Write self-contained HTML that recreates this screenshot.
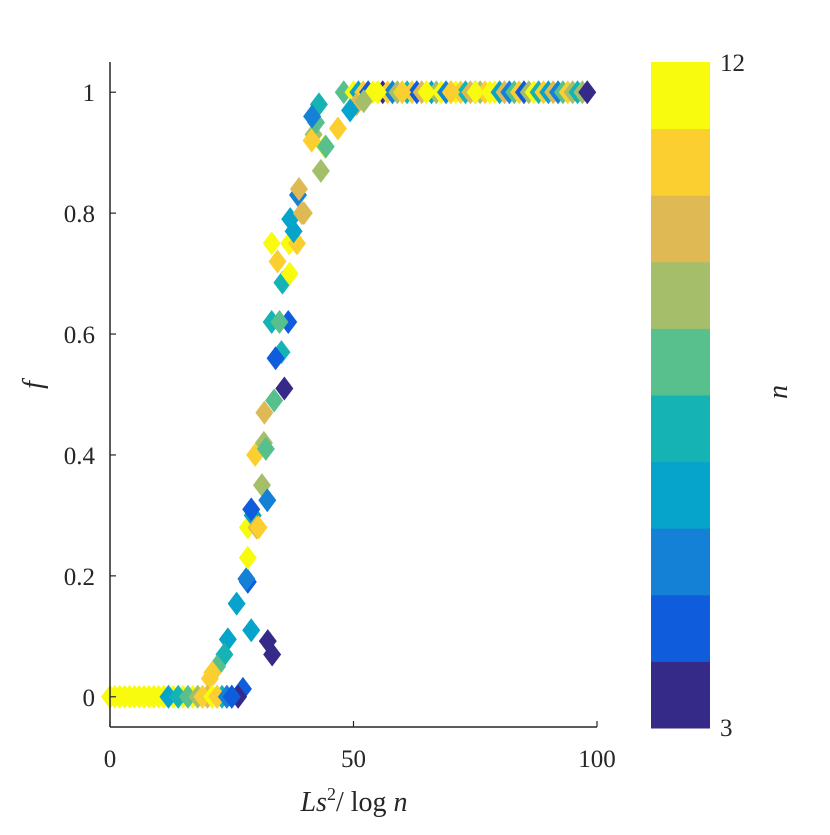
<!DOCTYPE html>
<html><head><meta charset="utf-8"><style>
html,body{margin:0;padding:0;background:#fff;}
svg text{font-family:"Liberation Serif",serif;fill:#262626;}
</style></head><body>
<svg width="830" height="830" viewBox="0 0 830 830">
<g id="marks"></g>
<g id="axes"></g>
<g id="cbar"></g>
</svg>
<script>
// data
const xs0=[0,1,2,3,4,5,6,7,8,9,10,11,12,13,14,15,16,17,18,19,20,21, 12,14,16,18,20,22,23,24,25,19,21,22,24,25];
const ns0=[12,12,12,12,12,12,12,12,12,12,12,12,12,12,12,12,12,12,12,12,12,12, 6,7,8,9,10,8,7,5,4,11,12,11,5,4];
const xsR=[27.3,26.3,24.2,26,29,32.4,33.3,28.3,28,28.3,28.3,29.3,29,30.1,30.5,29.8,31.6,32,31.2,32.3,31.7,33.7,35.2,35.8,34,36.6,33.2,34.8,35.4,36.8,33.2,34.4,36.9,38.4,37,38.6,38.8,39.4,37.7,39.8,41.8,42.3,42.9,43.3,44.1,41.4,44.3,46.8,50.6,52.1,49.3,41.5,23.5,22,21,20.5];
const ysR=[0.013,0,0.095,0.154,0.11,0.092,0.07,0.19,0.195,0.23,0.28,0.30,0.31,0.28,0.28,0.40,0.42,0.41,0.35,0.325,0.47,0.49,0.57,0.51,0.56,0.62,0.62,0.62,0.685,0.75,0.75,0.72,0.70,0.75,0.79,0.83,0.84,0.80,0.77,0.80,0.93,0.95,0.98,0.87,0.91,0.92,0.91,0.94,0.98,0.985,0.97,0.96,0.07,0.05,0.04,0.03];
const nsR=[4,3,6,6,6,3,3,4,5,12,12,6,4,10,11,11,9,8,9,5,10,8,7,3,4,4,7,8,7,12,12,11,12,11,6,5,10,10,6,10,9,8,7,9,12,11,8,11,10,9,6,5,7,8,11,11];
const xsT=[48,50,51,52,53,54,55,56,57,58,59,60,61,62,63,64,65,66,67,68,69,70,71,72,73,74,75,76,77,78,79,80,81,82,83,84,85,86,87,88,89,90,91,92,93,94,95,96,97,98,55,60,65,70,75];
const nsT=[8,12,6,11,4,12,10,3,11,5,9,12,7,11,4,10,11,6,9,12,5,8,12,11,7,10,3,9,11,12,12,6,10,5,8,11,4,9,12,7,11,6,10,5,8,11,9,7,9,3,12,11,12,11,12];
const ticksY=[0,0.2,0.4,0.6,0.8,1];
const tickYLabels=["0","0.2","0.4","0.6","0.8","1"];
const ticksX=[0,50,100];
const tickXLabels=["0","50","100"];
const cbLevels=[3,4,5,6,7,8,9,10,11,12];
const parula=["#352a87","#0f5cdd","#1481d6","#06a4ca","#15b3b4","#57c08d","#a5be6a","#dfb954","#fccf30","#f9fb0e"];

const NS="http://www.w3.org/2000/svg";
const X0=110,X1=597,Y0=727,Y1=62;
const xScale=v=>X0+(v-0)/(100-0)*(X1-X0);
const yScale=v=>Y0-(v-(-0.05))/(1.1)*(Y0-Y1);
const col=n=>parula[Math.max(0,Math.min(9,n-3))];
function mk(t,a,p){const e=document.createElementNS(NS,t);for(const k in a)e.setAttribute(k,a[k]);p.appendChild(e);return e;}
const marks=document.getElementById('marks');
function diamond(x,y,n){
  const cx=xScale(x),cy=yScale(y);
  const e=mk('polygon',{points:`${cx-9},${cy} ${cx},${cy-12} ${cx+9},${cy} ${cx},${cy+12}`,fill:col(n)},marks);
  
  
}
xsT.forEach((x,i)=>diamond(x,1,nsT[i]));
xsR.forEach((x,i)=>diamond(x,ysR[i],nsR[i]));
xs0.forEach((x,i)=>diamond(x,0,ns0[i]));

const ax=document.getElementById('axes');
mk('line',{x1:X0,y1:Y1,x2:X0,y2:Y0,stroke:'#262626','stroke-width':1.5},ax);
mk('line',{x1:X0,y1:Y0,x2:X1,y2:Y0,stroke:'#262626','stroke-width':1.5},ax);
ticksY.forEach((v,i)=>{const y=yScale(v);
  mk('line',{x1:X0,y1:y,x2:X0+6,y2:y,stroke:'#262626','stroke-width':1.2},ax);
  const t=mk('text',{x:95,y:y+9,'text-anchor':'end','font-size':25},ax);t.textContent=tickYLabels[i];
  
  });
ticksX.forEach((v,i)=>{const x=xScale(v);
  mk('line',{x1:x,y1:Y0,x2:x,y2:Y0-6,stroke:'#262626','stroke-width':1.2},ax);
  const t=mk('text',{x:x,y:767,'text-anchor':'middle','font-size':25},ax);t.textContent=tickXLabels[i];
  
  });
let t=mk('text',{x:354,y:811,'text-anchor':'middle','font-size':28,'font-style':'italic'},ax);
t.innerHTML='Ls<tspan dy="-11" font-size="18" font-style="normal">2</tspan><tspan dy="11" font-style="normal">/ log </tspan>n';

t=mk('text',{x:0,y:0,'text-anchor':'middle','font-size':28,'font-style':'italic',transform:'translate(42,385) rotate(-90)'},ax);t.textContent='f';


const cb=document.getElementById('cbar');
const CX=651,CW=59,CT=62,CB=728,bh=(CB-CT)/cbLevels.length;
cbLevels.forEach((n,i)=>{const r=mk('rect',{x:CX,y:CB-(i+1)*bh,width:CW,height:bh+0.5,fill:col(n)},cb);
  
  });
t=mk('text',{x:720,y:71,'font-size':25},cb);t.textContent='12';
t=mk('text',{x:720,y:736,'font-size':25},cb);t.textContent='3';
t=mk('text',{x:0,y:0,'text-anchor':'middle','font-size':28,'font-style':'italic',transform:'translate(787,392) rotate(-90)'},cb);t.textContent='n';

</script>
</body></html>
